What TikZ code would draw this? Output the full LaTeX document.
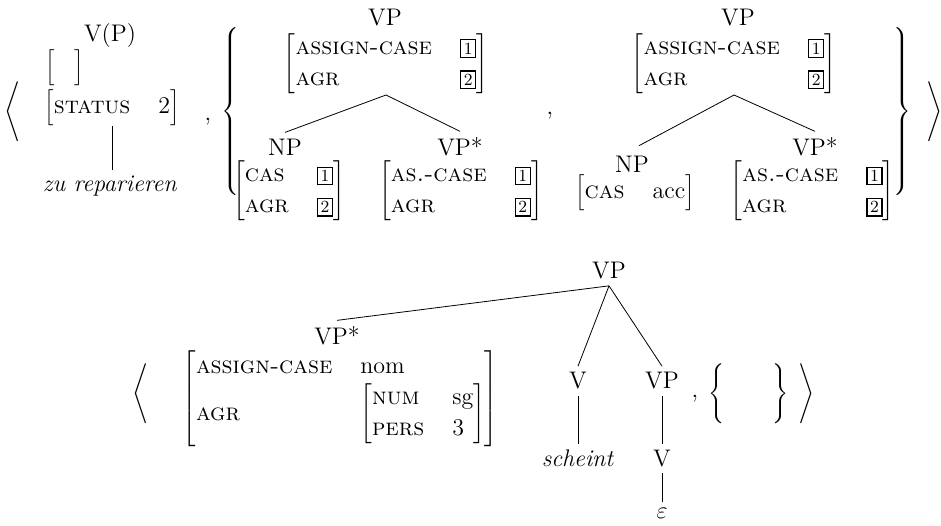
\documentclass[tikz,border=0pt]{standalone}
\usepackage{fontspec}
\usetikzlibrary{positioning}
\newcommand{\tagnum}[1]{{\setlength{\fboxsep}{1.2pt}\setlength{\fboxrule}{0.7pt}\fbox{\fontsize{8.5}{10}\selectfont #1}}}
\newcommand{\feat}[1]{\textsc{#1}}
\newcommand{\avm}[1]{$\left[\renewcommand{\arraystretch}{1.08}\begin{tabular}{@{}l@{\hspace{14pt}}l@{}}#1\end{tabular}\right]$}
\newcommand{\tallstrut}[1]{\vcenter{\hbox{\rule{0pt}{#1}}}}

\begin{document}
\begin{tikzpicture}[x=0.5pt,y=-0.5pt,font=\fontsize{12}{14.4}\selectfont,
  lbl/.style={inner sep=3pt},
  fs/.style={inner sep=0pt},
  delim/.style={inner sep=0pt}]
  \useasboundingbox (0,0) rectangle (941,525);

  % first element
  \node[delim] (langA) at (14,111.5) {$\left\langle\tallstrut{31pt}\right.$};
  \node[lbl] (vpA) at (110,36) {V(P)};
  \node[fs] (emptyA) at (64.5,67.5) {$\left[\tallstrut{17pt}\hspace{10pt}\right]$};
  \node[fs] (statA) at (112,107.5) {\avm{\feat{status} & 2}};
  \node[lbl] (zuA) at (110,186.5) {\textit{zu reparieren}};
  \draw (statA.south) -- (statA.south |- zuA.north);

  \node[lbl] (commaA) at (208,122) {,};
  \node[delim] (lbr) at (231.5,111.5) {$\left\{\tallstrut{86pt}\right.$};

  % set, first tree
  \node[lbl] (vpB) at (385,18) {VP};
  \node[fs] (avmB) at (386,63.5) {\avm{\feat{assign-case} & \tagnum{1}\\ \feat{agr} & \tagnum{2}}};
  \node[lbl] (npB) at (285,147) {NP};
  \node[lbl] (vpsB) at (460,147) {VP*};
  \node[fs] (npavmB) at (289,191) {\avm{\feat{cas} & \tagnum{1}\\ \feat{agr} & \tagnum{2}}};
  \node[fs] (vpsavmB) at (461,191) {\avm{\feat{as.-case} & \tagnum{1}\\ \feat{agr} & \tagnum{2}}};
  \draw (avmB.south) -- (npB.north);
  \draw (avmB.south) -- (vpsB.north);

  \node[lbl] (commaB) at (550,116) {,};

  % set, second tree
  \node[lbl] (vpC) at (738,18) {VP};
  \node[fs] (avmC) at (734,63.5) {\avm{\feat{assign-case} & \tagnum{1}\\ \feat{agr} & \tagnum{2}}};
  \node[lbl] (npC) at (632,164) {NP};
  \node[fs] (npavmC) at (635,192.5) {\avm{\feat{cas} & acc}};
  \node[lbl] (vpsC) at (815,147) {VP*};
  \node[fs] (vpsavmC) at (812.5,191) {\avm{\feat{as.-case} & \tagnum{1}\\ \feat{agr} & \tagnum{2}}};
  \draw[shorten >=4pt] (avmC.south) -- (npC.north);
  \draw (avmC.south) -- (vpsC.north);

  \node[delim] (rbr) at (901.5,111.5) {$\left.\tallstrut{86pt}\right\}$};
  \node[delim] (rangA) at (933,111.5) {$\left.\tallstrut{31pt}\right\rangle$};

  % second element
  \node[delim] (langD) at (142,393.5) {$\left\langle\tallstrut{31pt}\right.$};
  \node[lbl] (vpD) at (609,271) {VP};
  \node[lbl] (vpsD) at (337,336) {VP*};
  \node[fs] (avmD) at (340.5,398.5) {\avm{\feat{assign-case} & nom\\ \feat{agr} & \avm{\feat{num} & sg\\ \feat{pers} & 3}}};
  \node[lbl] (vD) at (578,381) {V};
  \node[lbl] (vpE) at (662,381) {VP};
  \node[lbl] (schD) at (578,458.5) {\textit{scheint}};
  \node[lbl] (vE) at (662,458.5) {V};
  \node[lbl] (epsE) at (662,513.5) {$\varepsilon$};
  \draw (vpD.south) -- (vpsD.north);
  \draw (vpD.south) -- (vD.north);
  \draw (vpD.south) -- (vpE.north);
  \draw (vD.south) -- (schD.north);
  \draw (vpE.south) -- (vE.north);
  \draw (vE.south) -- (epsE.north);

  \node[lbl] (commaD) at (695,399) {,};
  \node[delim] (setD) at (749,393.5) {$\left\{\tallstrut{31pt}\hspace{24pt}\right\}$};
  \node[delim] (rangD) at (805,393.5) {$\left.\tallstrut{31pt}\right\rangle$};
\end{tikzpicture}
\end{document}
